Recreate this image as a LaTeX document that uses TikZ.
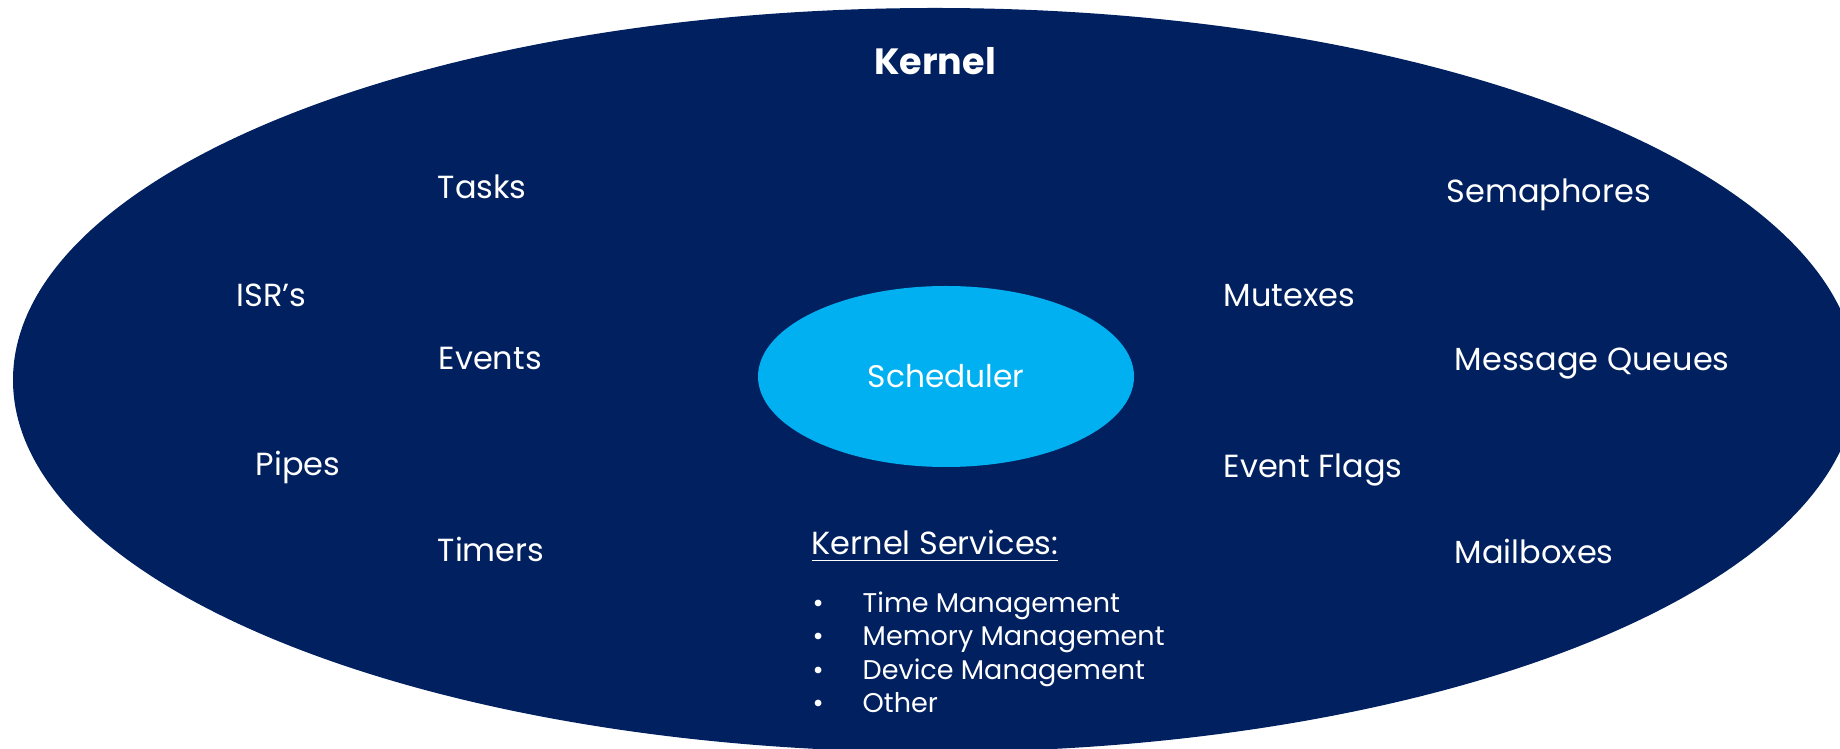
\documentclass[tikz,border=0pt]{standalone}
\usepackage{fontspec}
\setmainfont{Poppins}
\usepackage{tikz}
\usetikzlibrary{shapes.geometric}

\definecolor{kernelblue}{HTML}{002060}
\definecolor{schedblue}{HTML}{00B0F0}

\begin{document}
\begin{tikzpicture}[
  x=1cm,y=1cm,
  part/.style={anchor=base west,inner sep=0pt,text=white,
               font=\fontsize{9.1}{10}\selectfont},
  service/.style={anchor=base west,inner sep=0pt,text=white,
                  font=\fontsize{7.7}{9}\selectfont},
  core/.style={draw=none,ellipse,inner sep=0pt}
]
\useasboundingbox (0,0) rectangle (18.4,7.48);
\clip (0,0) rectangle (18.4,7.48);

% kernel body and scheduler
\node[core,fill=kernelblue,minimum width=18.44cm,minimum height=7.44cm]
  (kernel) at (9.35,3.68) {};
\node[core,fill=schedblue,minimum width=3.76cm,minimum height=1.81cm,
      text=white,font=\fontsize{8.9}{10}\selectfont] (sched) at (9.46,3.715) {Scheduler};
\node[anchor=base,inner sep=0pt,text=white,font=\fontsize{10.4}{12}\bfseries]
  (title) at (9.35,6.73) {Kernel};

% left column
\node[part] (tasks) at (4.37,5.49) {Tasks};
\node[part] (isr) at (2.36,4.41) {ISR’s};
\node[part] (events) at (4.38,3.78) {Events};
\node[part] (pipes) at (2.55,2.72) {Pipes};
\node[part] (timers) at (4.37,1.86) {Timers};

% right column
\node[part] (mutex) at (12.23,4.41) {Mutexes};
\node[part] (flags) at (12.23,2.70) {Event Flags};
\node[part] (sema) at (14.46,5.45) {Semaphores};
\node[part] (queues) at (14.54,3.77) {Message Queues};
\node[part] (mail) at (14.54,1.84) {Mailboxes};

% services list
\node[part] (services) at (8.11,1.93) {\underline{Kernel Services:}};
\node[service] (b1) at (8.12,1.35) {\textbullet};
\node[service] (time) at (8.62,1.35) {Time Management};
\node[service] (b2) at (8.12,1.02) {\textbullet};
\node[service] (memory) at (8.62,1.02) {Memory Management};
\node[service] (b3) at (8.12,0.69) {\textbullet};
\node[service] (device) at (8.62,0.69) {Device Management};
\node[service] (b4) at (8.12,0.36) {\textbullet};
\node[service] (other) at (8.62,0.36) {Other};
\end{tikzpicture}
\end{document}
